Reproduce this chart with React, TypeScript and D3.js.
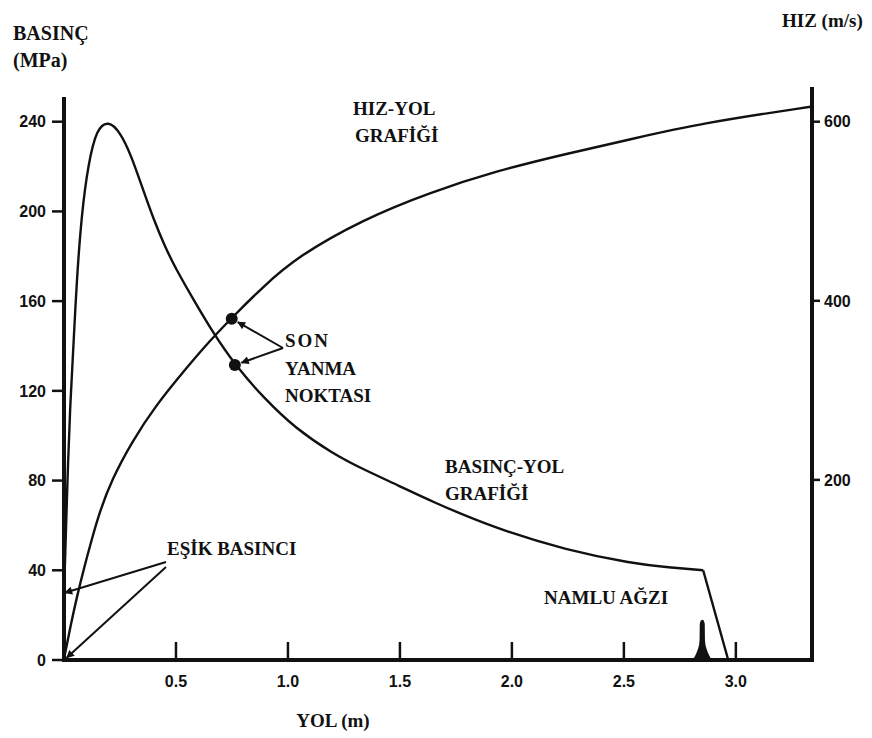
import React from "react";
import * as d3 from "d3";

// ---- data ----
const xTicks = [0.5, 1.0, 1.5, 2.0, 2.5, 3.0];
const xTickLabels = ["0.5", "1.0", "1.5", "2.0", "2.5", "3.0"];
const pTicks = [0, 40, 80, 120, 160, 200, 240];
const vTicks = [200, 400, 600];

// Pressure (MPa) vs travel (m)
const pressureX = [0.0, 0.004, 0.01, 0.018, 0.027, 0.038, 0.057, 0.079, 0.108, 0.146, 0.198, 0.25, 0.3, 0.35, 0.4, 0.45, 0.496, 0.585, 0.659, 0.763, 0.9, 1.031, 1.2, 1.336, 1.5, 1.634, 1.93, 2.244, 2.54, 2.7, 2.854];
const pressureY = [30, 42, 62, 88, 112, 132, 170, 199, 221, 237, 240.5, 235.5, 225, 210.5, 196.5, 184.5, 175, 159.5, 147, 131.5, 116, 103.5, 92, 85, 77.5, 71, 58.5, 49, 43, 41.3, 40];
const pressureDropX = [2.854, 2.966];
const pressureDropY = [40, 0];

// Velocity (m/s) vs travel (m)
const velocityX = [0.0, 0.0, 0.03, 0.06, 0.09, 0.12, 0.16, 0.213, 0.302, 0.406, 0.55, 0.65, 0.749, 0.89, 1.04, 1.336, 1.634, 1.93, 2.24, 2.54, 2.84, 3.34, 3.34];
const velocityY = [0, 0, 38, 72, 102, 130, 165, 200, 242, 282, 326, 355, 381, 416, 449, 491, 521, 545, 564, 581, 598, 617, 617];

// burnout points
const burnoutVelocity = { x: 0.749, v: 380 };
const burnoutPressure = { x: 0.763, p: 131.5 };

// muzzle marker
const muzzleX = 2.85;
const muzzlePeak = 18;

const W = 872;
const H = 738;

export default function App() {
  const x = d3.scaleLinear().domain([0, 3.34]).range([64, 812]);
  const yP = d3.scaleLinear().domain([0, 240]).range([660, 121.7]);
  const yV = d3.scaleLinear().domain([0, 600]).range([659, 121.7]);

  const pLine = d3
    .line<number>()
    .x((_, i) => x(pressureX[i]))
    .y((d) => yP(d))
    .curve(d3.curveBasis);
  const pDrop = d3
    .line<number>()
    .x((_, i) => x(pressureDropX[i]))
    .y((d) => yP(d));
  const vLine = d3
    .line<number>()
    .x((_, i) => x(velocityX[i]))
    .y((d) => yV(d))
    .curve(d3.curveBasis);

  // muzzle spike shape (bell with thin stem), built relative to its position
  const mx = x(muzzleX);
  const m0 = yP(0);
  const mt = yP(muzzlePeak);
  const mBase = x(muzzleX + 0.05) - mx;
  const profile: [number, number][] = [
    [-mBase, 0],
    [-8, 2.5],
    [-6, 6.5],
    [-4.3, 11],
    [-3.2, 15],
    [-2.7, 20],
    [-2.5, (m0 - mt) - 4],
    [-1.5, (m0 - mt) - 0.8],
    [0, m0 - mt],
  ];
  const full = [
    ...profile,
    ...profile.slice(0, -1).reverse().map(([dx, dy]) => [-dx, dy] as [number, number]),
  ];
  const muzzlePath =
    d3
      .line<[number, number]>()
      .x((d) => mx + d[0])
      .y((d) => m0 - d[1])
      .curve(d3.curveLinearClosed)(full) || "";

  const dot1 = { cx: x(burnoutVelocity.x), cy: yV(burnoutVelocity.v) };
  const dot2 = { cx: x(burnoutPressure.x), cy: yP(burnoutPressure.p) };

  const shorten = (x1: number, y1: number, x2: number, y2: number, d: number) => {
    const dx = x2 - x1;
    const dy = y2 - y1;
    const L = Math.hypot(dx, dy);
    return { x: x2 - (dx / L) * d, y: y2 - (dy / L) * d };
  };

  const sonTail = { x: 283, y: 348 };
  const a1 = shorten(sonTail.x, sonTail.y, dot1.cx, dot1.cy, 7);
  const a2 = shorten(sonTail.x, sonTail.y, dot2.cx, dot2.cy, 7);

  const esik1 = { x: x(0.004), y: yP(30) };
  const esik2 = { x: x(0.012), y: yP(1) };

  const serif = "'Liberation Serif', 'Times New Roman', serif";
  const sans = "'Liberation Sans', Arial, sans-serif";
  const ink = "#111";

  return (
    <svg
      width={W}
      height={H}
      viewBox={`0 0 ${W} ${H}`}
      style={{ position: "absolute", left: 0, top: 0, background: "#fff" }}
    >
      <defs>
        <marker id="ah" viewBox="0 0 10 10" refX="9" refY="5" markerWidth="10" markerHeight="8" markerUnits="userSpaceOnUse" orient="auto">
          <path d="M0,0 L10,5 L0,10 Z" fill={ink} />
        </marker>
      </defs>
      <rect x={0} y={0} width={W} height={H} fill="#fff" />

      {/* axis titles */}
      <g fontFamily={serif} fontWeight="bold" fill={ink}>
        <text x={13} y={40} fontSize={20}>BASINÇ</text>
        <text x={13} y={67} fontSize={20}>(MPa)</text>
        <text x={782} y={27} fontSize={19}>HIZ (m/s)</text>
        <text x={333} y={727} fontSize={19} textAnchor="middle">YOL (m)</text>
      </g>

      {/* axes */}
      <g stroke={ink} strokeWidth={4} fill="none">
        <line x1={64} y1={97} x2={64} y2={662} />
        <line x1={812} y1={87} x2={812} y2={662} />
        <line x1={62} y1={660} x2={814} y2={660} />
      </g>

      {/* ticks */}
      <g fontFamily={sans} fontWeight="bold" fontSize={16} fill={ink}>
        {pTicks.map((t) => (
          <g key={"p" + t}>
            <line x1={52} x2={64} y1={yP(t)} y2={yP(t)} stroke={ink} strokeWidth={2.5} />
            <text x={46} y={yP(t)} dy="0.36em" textAnchor="end">{t}</text>
          </g>
        ))}
        {vTicks.map((t) => (
          <g key={"v" + t}>
            <line x1={812} x2={820} y1={yV(t)} y2={yV(t)} stroke={ink} strokeWidth={2.5} />
            <text x={824} y={yV(t)} dy="0.36em" textAnchor="start">{t}</text>
          </g>
        ))}
        {xTicks.map((t, i) => (
          <g key={"x" + t}>
            <line x1={x(t)} x2={x(t)} y1={660} y2={642} stroke={ink} strokeWidth={2.5} />
            <text x={x(t)} y={687} textAnchor="middle">{xTickLabels[i]}</text>
          </g>
        ))}
      </g>

      {/* curves */}
      <path d={pLine(pressureY) || ""} fill="none" stroke={ink} strokeWidth={2.4} />
      <path d={pDrop(pressureDropY) || ""} fill="none" stroke={ink} strokeWidth={2.4} />
      <path d={vLine(velocityY) || ""} fill="none" stroke={ink} strokeWidth={2.4} />

      {/* muzzle */}
      <path d={muzzlePath} fill={ink} />

      {/* burnout dots */}
      <circle cx={dot1.cx} cy={dot1.cy} r={6} fill={ink} />
      <circle cx={dot2.cx} cy={dot2.cy} r={6} fill={ink} />

      {/* arrows */}
      <g stroke={ink} strokeWidth={2} fill="none">
        <line x1={sonTail.x} y1={sonTail.y} x2={a1.x} y2={a1.y} markerEnd="url(#ah)" />
        <line x1={sonTail.x} y1={sonTail.y} x2={a2.x} y2={a2.y} markerEnd="url(#ah)" />
        <line x1={166} y1={562} x2={esik1.x} y2={esik1.y} markerEnd="url(#ah)" />
        <line x1={166} y1={567} x2={esik2.x} y2={esik2.y} markerEnd="url(#ah)" />
      </g>

      {/* annotations */}
      <g fontFamily={serif} fontWeight="bold" fill={ink} fontSize={19}>
        <text x={353} y={115}>HIZ-YOL</text>
        <text x={355} y={142}>GRAFİĞİ</text>
        <text x={285} y={347} letterSpacing={2}>SON</text>
        <text x={285} y={375}>YANMA</text>
        <text x={285} y={402}>NOKTASI</text>
        <text x={445} y={473}>BASINÇ-YOL</text>
        <text x={445} y={500}>GRAFİĞİ</text>
        <text x={167} y={555}>EŞİK BASINCI</text>
        <text x={544} y={604}>NAMLU AĞZI</text>
      </g>
    </svg>
  );
}
